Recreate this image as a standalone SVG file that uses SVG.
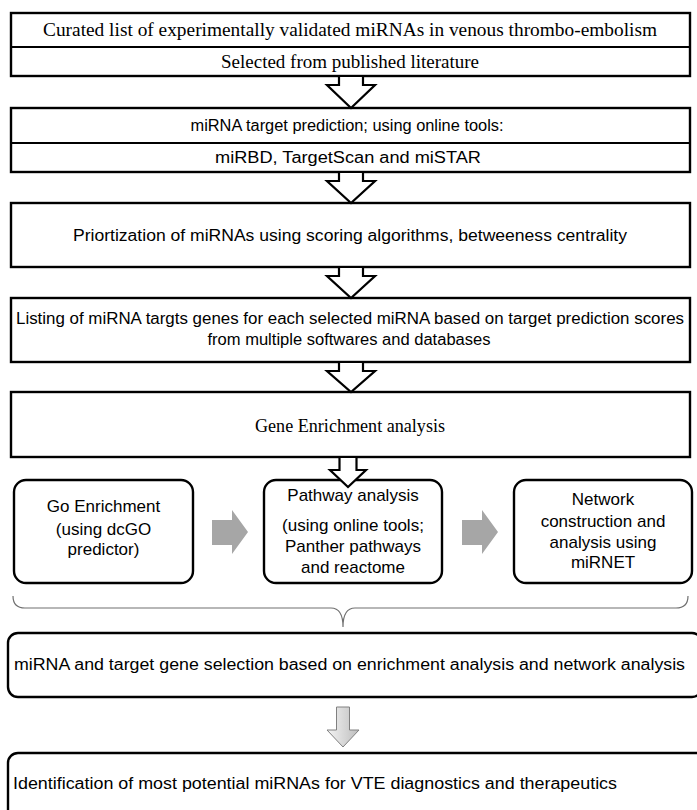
<svg xmlns="http://www.w3.org/2000/svg" width="697" height="810" viewBox="0 0 697 810">
<style>
.box{fill:#fff;stroke:#000;stroke-width:2.4}
.div{stroke:#000;stroke-width:2.2}
.serif{font-family:"Liberation Serif","Times New Roman",serif;font-size:19px;fill:#000;text-anchor:middle}
.sans{font-family:"Liberation Sans",Arial,sans-serif;font-size:16px;fill:#000;text-anchor:middle}
.sm{font-size:17px}
.left{text-anchor:start}
.harrow{fill:#fff;stroke:#000;stroke-width:2.2;stroke-linejoin:miter}
.garrow{fill:#a6a6a6}
.darrow{fill:url(#gg);stroke:#808080;stroke-width:1}
.brace{fill:none;stroke:#707070;stroke-width:1.2}
</style>
<defs>
<linearGradient id="gg" x1="0" y1="0" x2="1" y2="0">
<stop offset="0" stop-color="#f4f4f4"/>
<stop offset="1" stop-color="#bdbdbd"/>
</linearGradient>
</defs>
<rect width="697" height="810" fill="#fff"/>

<g id="n1">
<rect class="box" x="11" y="13" width="679" height="63"/>
<line class="div" x1="11" y1="47" x2="690" y2="47"/>
<text class="serif" x="350" y="36" textLength="614" lengthAdjust="spacingAndGlyphs">Curated list of experimentally validated miRNAs in venous thrombo-embolism</text>
<text class="serif" x="350" y="68">Selected from published literature</text>
</g>

<g id="n2">
<rect class="box" x="11" y="108" width="679" height="64"/>
<line class="div" x1="11" y1="143" x2="690" y2="143"/>
<text class="sans" x="347" y="131" textLength="313" lengthAdjust="spacingAndGlyphs">miRNA target prediction;  using online tools:</text>
<text class="sans" x="348" y="163" textLength="266" lengthAdjust="spacingAndGlyphs">miRBD, TargetScan and miSTAR</text>
</g>

<g id="n3">
<rect class="box" x="11" y="203" width="679" height="64"/>
<text class="sans" x="350" y="241" textLength="554" lengthAdjust="spacingAndGlyphs">Priortization of miRNAs using scoring algorithms, betweeness centrality</text>
</g>

<g id="n4">
<rect class="box" x="11" y="298" width="679" height="64"/>
<text class="sans" x="350" y="324" textLength="668" lengthAdjust="spacingAndGlyphs">Listing of miRNA targts genes for each selected miRNA based on target prediction scores</text>
<text class="sans" x="349" y="345" textLength="283" lengthAdjust="spacingAndGlyphs">from multiple softwares and databases</text>
</g>

<g id="n5">
<rect class="box" x="11" y="392" width="679" height="65"/>
<text class="serif" x="350" y="432" textLength="190" lengthAdjust="spacingAndGlyphs">Gene Enrichment analysis</text>
</g>

<g id="n6">
<rect class="box" x="14" y="480" width="179" height="103" rx="12"/>
<text class="sans sm" x="103.5" y="512">Go Enrichment</text>
<text class="sans sm" x="103.5" y="535">(using dcGO</text>
<text class="sans sm" x="103.5" y="555">predictor)</text>
</g>

<g id="n7">
<rect class="box" x="264" y="480" width="178" height="103" rx="12"/>
<text class="sans sm" x="353" y="501">Pathway analysis</text>
<text class="sans sm" x="353" y="531">(using online  tools;</text>
<text class="sans sm" x="353" y="552">Panther pathways</text>
<text class="sans sm" x="353" y="573">and reactome</text>
</g>

<g id="n8">
<rect class="box" x="514" y="480" width="178" height="103" rx="12"/>
<text class="sans sm" x="603" y="505">Network</text>
<text class="sans sm" x="603" y="527">construction and</text>
<text class="sans sm" x="603" y="548">analysis using</text>
<text class="sans sm" x="603" y="568">miRNET</text>
</g>

<g id="n9">
<rect class="box" x="8" y="633" width="694" height="64" rx="10"/>
<text class="sans left" x="14" y="670" textLength="671" lengthAdjust="spacingAndGlyphs">miRNA and target gene selection based on enrichment analysis and network analysis</text>
</g>

<g id="n10">
<rect class="box" x="8" y="753" width="700" height="100" rx="10"/>
<text class="sans left" x="13" y="789" textLength="604" lengthAdjust="spacingAndGlyphs">Identification of most potential miRNAs for VTE diagnostics and therapeutics</text>
</g>

<g id="connectors">
<path class="harrow" d="M339,76 L339,85 L327,85 L351,108 L375,85 L363,85 L363,76 Z"/>
<path class="harrow" d="M339,172 L339,181 L327,181 L351,203 L375,181 L363,181 L363,172 Z"/>
<path class="harrow" d="M339,267 L339,276 L327,276 L351,298 L375,276 L363,276 L363,267 Z"/>
<path class="harrow" d="M339,362 L339,371 L327,371 L351,392 L375,371 L363,371 L363,362 Z"/>
<path class="harrow" d="M339.5,457 L339.5,470 L330,470 L348,487 L366,470 L356.5,470 L356.5,457 Z"/>
<path class="garrow" d="M212,520 L232,520 L232,510 L248,532 L232,554 L232,545 L212,545 Z"/>
<path class="garrow" d="M462,520 L482,520 L482,510 L498,532 L482,554 L482,545 L462,545 Z"/>
<path class="brace" d="M13,596 Q13,608 25,608 L331,608 Q343,608 343,627 Q343,608 355,608 L676,608 Q688,608 688,596"/>
<path class="darrow" d="M336.5,707 L349.5,707 L349.5,730 L359,730 L343,747 L327,730 L336.5,730 Z"/>
</g>
</svg>
